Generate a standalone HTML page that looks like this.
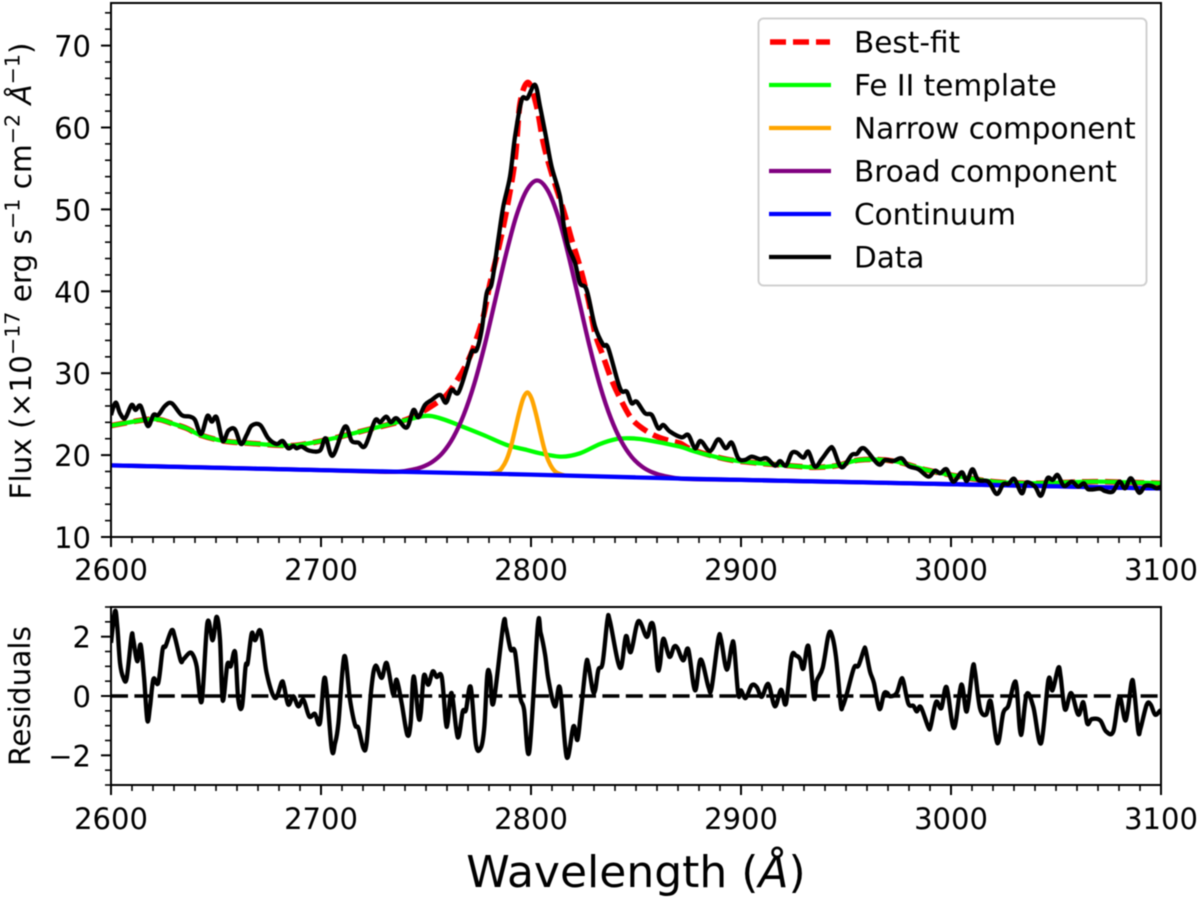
<!DOCTYPE html>
<html lang="en">
<head>
<meta charset="utf-8">
<title>Spectrum fit around Mg II</title>
<style>
html,body{margin:0;padding:0;background:#fff;}
svg{display:block;filter:blur(0.45px);}
text{font-family:"DejaVu Sans","Liberation Sans",sans-serif;fill:#000;}
</style>
</head>
<body>
<svg id="figure" xmlns="http://www.w3.org/2000/svg" width="1200" height="899" viewBox="0 0 1200 899">
  <defs>
    <clipPath id="clip-main"><rect x="111" y="3" width="1050" height="534"/></clipPath>
    <clipPath id="clip-res"><rect x="111" y="607" width="1050" height="178"/></clipPath>
  </defs>
  <g id="main-axes"></g>
  <g id="res-axes"></g>

  <text transform="translate(31,271) rotate(-90)" text-anchor="middle" font-size="29.5">Flux (×10<tspan font-size="20.6" dy="-11.5">−17</tspan><tspan dy="11.5"> erg s</tspan><tspan font-size="20.6" dy="-11.5">−1</tspan><tspan dy="11.5"> cm</tspan><tspan font-size="20.6" dy="-11.5">−2</tspan><tspan dy="11.5" font-style="italic"> Å</tspan><tspan font-size="20.6" dy="-11.5">−1</tspan><tspan dy="11.5">)</tspan></text>
  <text transform="translate(30,696) rotate(-90)" text-anchor="middle" font-size="29.5">Residuals</text>
  <text x="636" y="887" text-anchor="middle" font-size="44">Wavelength (<tspan font-style="italic">Å</tspan>)</text>

  <g>
    <rect x="758.5" y="18.5" width="388" height="267" rx="5" ry="5" fill="#fff" fill-opacity="0.9" stroke="#d0d0d0" stroke-width="2"/>
    <line x1="770" x2="830" y1="42" y2="42" stroke="#ff0000" stroke-width="5.4" stroke-dasharray="16 7"/>
    <text x="854" y="52.5" font-size="29.5">Best-fit</text>
    <line x1="769" x2="831" y1="85" y2="85" stroke="#00ff00" stroke-width="4.2"/>
    <text x="854" y="95.5" font-size="29.5">Fe II template</text>
    <line x1="769" x2="831" y1="128" y2="128" stroke="#ffa500" stroke-width="4.2"/>
    <text x="854" y="138.5" font-size="29.5">Narrow component</text>
    <line x1="769" x2="831" y1="171" y2="171" stroke="#800080" stroke-width="4.2"/>
    <text x="854" y="181.5" font-size="29.5">Broad component</text>
    <line x1="769" x2="831" y1="214" y2="214" stroke="#0000ff" stroke-width="4.2"/>
    <text x="854" y="224.5" font-size="29.5">Continuum</text>
    <line x1="769" x2="831" y1="257" y2="257" stroke="#000" stroke-width="4.2"/>
    <text x="854" y="267.5" font-size="29.5">Data</text>
  </g>
</svg>
<script>
const xTickLabels = [2600, 2700, 2800, 2900, 3000, 3100];
const fluxTickLabels = [10, 20, 30, 40, 50, 60, 70];
const residualTickLabels = [-2, 0, 2];

const dataWave = [2600.0,2602.2,2604.3,2606.7,2609.8,2611.7,2614.1,2617.5,2620.2,2622.5,2625.7,2628.9,2633.6,2637.6,2640.0,2642.9,2645.9,2648.0,2650.3,2653.2,2655.9,2659.0,2661.9,2664.6,2667.0,2671.0,2674.9,2678.9,2681.7,2684.4,2686.8,2688.4,2690.8,2694.4,2699.5,2702.2,2705.6,2711.4,2714.6,2717.8,2721.0,2725.7,2728.1,2731.0,2733.3,2736.0,2740.8,2744.0,2746.4,2749.5,2752.7,2756.7,2759.5,2762.2,2765.4,2769.4,2771.8,2774.1,2776.5,2778.9,2781.3,2784.4,2786.8,2790.0,2792.4,2795.6,2798.3,2801.9,2804.3,2807.1,2809.8,2813.8,2815.7,2817.8,2821.0,2823.3,2826.5,2830.5,2834.4,2836.8,2842.4,2845.6,2847.9,2850.3,2854.3,2857.5,2860.6,2863.0,2866.2,2871.7,2874.9,2878.1,2880.8,2885.2,2889.2,2892.7,2895.6,2898.7,2901.9,2905.1,2909.1,2912.2,2916.2,2918.6,2921.4,2924.1,2926.5,2929.7,2932.1,2935.2,2938.4,2942.4,2944.0,2947.9,2952.7,2955.1,2958.6,2965.4,2968.6,2972.5,2976.5,2979.7,2984.5,2989.2,2992.4,2994.8,2997.9,3001.1,3005.1,3007.5,3010.2,3013.0,3017.8,3021.8,3024.9,3027.3,3030.2,3033.7,3036.0,3040.0,3042.9,3045.9,3048.4,3050.8,3053.8,3057.5,3060.6,3063.3,3065.4,3071.0,3073.3,3077.0,3080.2,3082.9,3085.7,3089.5,3092.4,3095.6,3097.9,3100.0];
const dataFlux = [24.9,26.41,25.11,24.5,26.12,25.51,26.0,23.56,24.9,24.9,26.0,26.33,24.9,24.7,24.29,22.58,24.78,24.09,24.62,21.73,22.99,23.15,21.36,22.46,23.6,23.68,22.05,21.36,21.73,20.83,21.12,20.83,21.03,20.55,20.55,22.05,19.93,23.48,21.73,21.52,21.12,24.21,24.0,24.7,24.0,24.5,23.36,25.51,24.62,26.12,26.73,27.35,26.41,27.96,27.63,30.6,32.64,32.84,35.28,39.76,40.98,46.28,50.35,54.02,58.9,63.38,63.58,65.21,62.56,58.9,55.24,51.57,47.91,45.46,43.43,40.98,40.17,35.69,33.45,33.05,28.16,27.75,26.33,26.53,25.11,24.9,23.27,23.68,22.87,22.17,22.46,20.83,21.73,20.5,21.93,20.83,21.52,19.61,19.41,19.81,19.49,19.61,18.71,19.28,18.71,20.22,20.3,19.69,20.42,18.59,19.49,20.83,20.71,18.51,20.02,20.14,20.83,18.88,19.41,19.28,19.61,18.67,18.27,17.37,18.1,17.78,18.27,16.76,17.9,16.84,18.27,16.96,16.76,15.25,16.47,16.47,17.08,15.33,16.68,16.15,15.05,17.17,16.96,17.57,16.23,16.76,16.15,16.56,15.82,15.9,15.62,15.54,16.76,15.94,17.17,15.42,16.23,16.23,15.94,16.15];

const fitWave = [2600,2615.4,2622.5,2628.9,2636,2642.4,2653.5,2666.2,2683.6,2691.6,2705.9,2721.7,2737.6,2745.5,2753.5,2759.8,2765.4,2769.4,2772.5,2777.3,2780.5,2784.4,2788.4,2792.4,2794.8,2798.7,2802.7,2805.9,2809.8,2815.4,2819.4,2823.3,2827.3,2830.5,2834.4,2838.4,2842.4,2847.2,2851.9,2858.3,2864.6,2871,2877.3,2893.2,2909.1,2924.9,2935.2,2945.6,2956.7,2972.5,2988.4,3004.3,3020.2,3036,3051.9,3067.8,3083.7,3100];
const fitFlux = [23.6,24.29,24.37,23.88,23.27,22.46,21.73,21.44,21.16,21.32,22.05,23.07,24.09,24.9,26.12,27.35,29.38,31.21,33.05,36.91,40.98,45.06,49.94,56.05,62.97,65.5,62.56,58.09,54.42,49.94,46.28,43.02,38.95,34.88,32.03,29.18,26.94,24.7,23.48,22.46,21.85,21.44,20.6,19.49,19.0,18.67,18.51,18.71,19.41,19.28,18.18,17.37,16.76,16.56,16.64,16.76,16.68,16.56];

const feWave = [2600,2615.4,2622.5,2628.9,2636,2642.4,2653.5,2666.2,2683.6,2691.6,2705.9,2721.7,2737.6,2749.5,2756.7,2765.4,2777.3,2788.4,2798,2804.3,2814.6,2823.3,2832.9,2840.8,2847.2,2855.1,2871,2877.3,2893.2,2909.1,2924.9,2935.2,2945.6,2956.7,2972.5,2988.4,3004.3,3020.2,3036,3051.9,3067.8,3083.7,3100];
const feFlux = [23.6,24.29,24.37,23.88,23.27,22.46,21.73,21.44,21.16,21.32,22.05,23.07,24.09,24.78,24.5,23.68,22.46,21.24,20.63,20.22,19.81,20.22,21.36,21.97,22.05,21.85,21.03,20.5,19.49,19.0,18.67,18.51,18.71,19.41,19.28,18.18,17.37,16.76,16.56,16.64,16.76,16.68,16.56];

const narrowWave = [2780,2784.3,2786.3,2788.3,2790.3,2792.3,2794.3,2796.3,2798.3,2800.3,2802.3,2804.3,2806.3,2808.3,2810.3,2812.3,2816];
const narrowFlux = [17.72,17.98,18.48,19.4,20.9,22.97,25.15,26.93,27.65,26.89,25.1,22.9,20.8,19.3,18.35,17.85,17.5];

const broadWave = [2600,2700,2733,2743,2748,2753,2758,2763,2768,2773,2778,2783,2788,2793,2798,2803,2808,2813,2818,2823,2828,2833,2838,2843,2848,2853,2858,2863,2873,2900,3000,3100];
const broadFlux = [18.75,18.17,17.95,18.2,18.53,19.17,20.3,22.17,24.94,28.71,33.48,38.95,44.42,49.19,52.36,53.53,52.3,49.07,44.24,38.71,33.18,28.35,24.52,21.69,19.76,18.57,17.87,17.48,17.1,16.97,16.45,15.92];

const continuumWave = [2600,2700,2800,2861,2900,3000,3100];
const continuumFlux = [18.75,18.17,17.62,17.2,16.97,16.45,15.92];

const residualWave = [2600.0,2601.9,2603.0,2604.3,2605.9,2607.5,2609.8,2610.6,2612.5,2614.1,2615.7,2617.3,2618.6,2620.2,2622.5,2624.6,2626.0,2628.9,2630.5,2633.2,2634.4,2637.3,2638.9,2640.8,2643.2,2645.9,2648.4,2650.3,2651.9,2653.2,2655.4,2657.0,2659.1,2660.6,2662.4,2664.1,2665.1,2667.0,2668.6,2671.3,2674.1,2678.1,2681.3,2682.4,2684.4,2686.8,2689.2,2691.6,2694.4,2697.1,2699.5,2701.9,2705.1,2706.7,2708.3,2711.1,2713.8,2716.2,2717.8,2720.2,2721.7,2724.1,2726.0,2728.9,2731.3,2734.4,2736.0,2738.4,2741.1,2742.7,2744.1,2746.4,2747.5,2749.0,2751.1,2753.2,2755.1,2757.5,2759.4,2760.3,2762.2,2765.1,2767.5,2769.0,2771.3,2773.8,2776.2,2777.8,2779.2,2780.5,2782.1,2786.8,2788.1,2790.3,2792.4,2794.8,2796.7,2799.2,2803.2,2804.6,2806.7,2808.3,2811.4,2813.8,2817.0,2820.2,2822.1,2823.7,2826.2,2827.3,2829.4,2830.6,2832.1,2834.1,2836.4,2837.6,2842.4,2845.2,2847.5,2851.1,2855.1,2857.1,2858.6,2860.3,2861.4,2863.0,2865.9,2868.1,2869.7,2872.5,2874.9,2878.1,2880.8,2884.5,2886.0,2889.2,2890.5,2893.2,2895.6,2896.7,2898.7,2900.0,2902.2,2905.1,2907.5,2909.8,2912.2,2913.5,2916.2,2919.1,2921.4,2924.1,2926.2,2928.1,2929.7,2932.1,2934.8,2936.0,2938.9,2941.6,2943.2,2945.2,2947.5,2948.4,2950.3,2953.8,2955.9,2958.6,2959.4,2961.4,2963.3,2965.9,2968.1,2969.7,2971.0,2974.1,2976.2,2977.3,2979.7,2982.1,2983.7,2985.6,2989.2,2990.3,2992.9,2995.4,2997.9,3001.4,3004.9,3007.5,3010.3,3011.4,3013.8,3016.7,3018.9,3022.1,3024.9,3027.3,3030.0,3031.3,3033.3,3036.0,3039.2,3042.9,3046.4,3048.3,3051.1,3052.2,3054.3,3057.2,3060.6,3063.0,3064.9,3067.0,3071.0,3073.8,3077.3,3080.2,3083.2,3086.0,3087.2,3089.2,3090.3,3093.2,3095.1,3097.2,3099.5,3100];
const residualValue = [1.79,2.86,2.35,1.11,0.61,0.61,2.02,1.90,1.17,1.73,0.66,-0.82,-0.35,0.57,0.44,1.57,1.68,2.22,1.96,1.19,1.23,1.45,1.40,1.0,-0.18,2.47,1.88,2.67,1.90,-0.15,1.06,1.0,1.48,-0.12,-0.35,1.0,1.11,2.11,1.88,2.18,0.78,-0.07,0.47,0.33,-0.29,-0.01,-0.35,-0.12,-0.69,-0.60,-0.91,0.61,-1.78,-1.59,-0.91,1.34,-0.12,-0.97,-1.08,-1.76,-1.59,0.33,1.02,0.61,1.11,0.05,0.55,-0.24,-1.31,-0.91,0.66,-0.69,-0.57,0.69,0.38,0.83,0.64,0.64,-0.86,-0.91,0.10,-1.39,-0.52,-0.48,0.30,-1.64,-1.73,-1.02,0.72,0.69,-0.24,2.41,2.30,1.57,1.48,-0.01,-0.46,-1.87,2.35,2.13,1.40,0.55,-0.35,0.27,-2.06,-1.02,-1.48,-0.57,1.06,1.06,0.19,0.21,0.89,1.11,2.56,2.52,0.95,2.02,1.48,2.52,1.99,2.44,2.24,0.95,1.06,1.93,1.32,1.66,1.62,1.20,1.57,0.19,1.23,0.30,0.27,1.93,1.90,0.89,1.70,1.68,0.05,0.19,-0.07,0.36,0.30,-0.03,0.36,0.33,-0.35,0.21,-0.26,1.32,1.36,1.25,0.92,1.68,-0.07,0.50,0.95,2.04,2.07,1.34,-0.29,-0.35,0.05,0.95,1.02,1.57,1.54,0.83,0.44,-0.44,0.08,0.10,-0.01,0.10,0.55,0.50,-0.26,-0.33,-0.52,-0.37,-1.05,-1.02,-0.20,-0.41,0.30,-1.08,0.38,-0.52,0.95,0.83,-0.41,-0.63,-0.18,-1.59,-0.57,-0.33,0.42,0.27,-1.31,0.05,-0.37,-1.59,0.55,0.19,0.95,0.66,-0.46,0.10,-0.63,-0.21,-0.93,-0.78,-0.82,-1.19,-1.19,-0.03,-0.82,0.47,0.21,-1.19,-1.08,-0.29,-0.29,-0.63,-0.50,-0.50];

const xMin = 2600, xMax = 3100;
const fluxMin = 10, fluxMax = 75.2;
const resMin = -3, resMax = 3;

const SVG_NS = 'http://www.w3.org/2000/svg';
function xScale(w){ return 111 + (w - xMin) / (xMax - xMin) * 1050; }
function fluxScale(v){ return 537 - (v - fluxMin) / (fluxMax - fluxMin) * 534; }
function resScale(v){ return 785 - (v - resMin) / (resMax - resMin) * 178; }

function make(tag, attrs, parent){
  const el = document.createElementNS(SVG_NS, tag);
  for (const k in attrs) el.setAttribute(k, attrs[k]);
  parent.appendChild(el);
  return el;
}
function smoothPath(xs, ys, sx, sy){
  const px = xs.map(sx), py = ys.map(sy);
  let d = 'M' + px[0].toFixed(2) + ' ' + py[0].toFixed(2);
  for (let i = 0; i < px.length - 1; i++){
    const a = Math.max(i - 1, 0), b = Math.min(i + 2, px.length - 1);
    const c1x = px[i] + (px[i + 1] - px[a]) / 6, c1y = py[i] + (py[i + 1] - py[a]) / 6;
    const c2x = px[i + 1] - (px[b] - px[i]) / 6, c2y = py[i + 1] - (py[b] - py[i]) / 6;
    d += 'C' + c1x.toFixed(2) + ' ' + c1y.toFixed(2) + ' ' + c2x.toFixed(2) + ' ' + c2y.toFixed(2) + ' ' + px[i + 1].toFixed(2) + ' ' + py[i + 1].toFixed(2);
  }
  return d;
}

const mainG = document.getElementById('main-axes');
const resG = document.getElementById('res-axes');
const mainClip = make('g', {'clip-path': 'url(#clip-main)'}, mainG);
const resClip = make('g', {'clip-path': 'url(#clip-res)'}, resG);

const fitLine = make('path', {d: smoothPath(fitWave, fitFlux, xScale, fluxScale), fill: 'none', stroke: '#ff0000', 'stroke-width': 5.6, 'stroke-dasharray': '16 7'}, mainClip);


const feLine = make('path', {d: smoothPath(feWave, feFlux, xScale, fluxScale), fill: 'none', stroke: '#00ff00', 'stroke-width': 4.3}, mainClip);


const narrowLine = make('path', {d: smoothPath(narrowWave, narrowFlux, xScale, fluxScale), fill: 'none', stroke: '#ffa500', 'stroke-width': 4.3}, mainClip);


const broadLine = make('path', {d: smoothPath(broadWave, broadFlux, xScale, fluxScale), fill: 'none', stroke: '#800080', 'stroke-width': 4.3}, mainClip);


const contLine = make('path', {d: smoothPath(continuumWave, continuumFlux, xScale, fluxScale), fill: 'none', stroke: '#0000ff', 'stroke-width': 4.3}, mainClip);


const dataLine = make('path', {d: smoothPath(dataWave, dataFlux, xScale, fluxScale), fill: 'none', stroke: '#000', 'stroke-width': 4.3, 'stroke-linejoin': 'round'}, mainClip);



const zeroLine = make('line', {x1: 111, x2: 1161, y1: resScale(0), y2: resScale(0), stroke: '#000', 'stroke-width': 3.6, 'stroke-dasharray': '17 6.4'}, resClip);


const resLine = make('path', {d: smoothPath(residualWave, residualValue, xScale, resScale), fill: 'none', stroke: '#000', 'stroke-width': 4.3, 'stroke-linejoin': 'round'}, resClip);



function drawAxes(g, top, bottom, yScale, yLabels, yMinorStep, yLo, yHi, xLabelBaseline, prefix){
  const frame = make('rect', {x: 111, y: top, width: 1050, height: bottom - top, fill: 'none', stroke: '#000', 'stroke-width': 2}, g);
  
  
  for (let w = xMin; w <= xMax; w += 10){
    const major = (w % 100 === 0);
    const tick = make('line', {x1: xScale(w), x2: xScale(w), y1: bottom, y2: bottom + (major ? 10 : 6), stroke: '#000', 'stroke-width': major ? 2 : 1.6}, g);
    
    
  }
  xTickLabels.forEach(function(w){
    const t = make('text', {x: xScale(w), y: xLabelBaseline, 'text-anchor': 'middle', 'font-size': 29}, g);
    t.textContent = String(w);
    
    
  });
  for (let v = yLo; v <= yHi + 1e-6; v += yMinorStep){
    const major = yLabels.some(function(l){ return Math.abs(l - v) < 1e-6; });
    const tick = make('line', {x1: 111, x2: major ? 101 : 105, y1: yScale(v), y2: yScale(v), stroke: '#000', 'stroke-width': major ? 2 : 1.6}, g);
    
    
  }
  yLabels.forEach(function(v){
    const t = make('text', {x: 91, y: yScale(v) + 11, 'text-anchor': 'end', 'font-size': 29}, g);
    t.textContent = String(v).replace('-', '\u2212');
    
    
  });
}
drawAxes(mainG, 3, 537, fluxScale, fluxTickLabels, 2, 10, 74, 580, 'flux');
drawAxes(resG, 607, 785, resScale, residualTickLabels, 0.5, -3, 3, 829, 'residuals');
</script>
</body>
</html>
